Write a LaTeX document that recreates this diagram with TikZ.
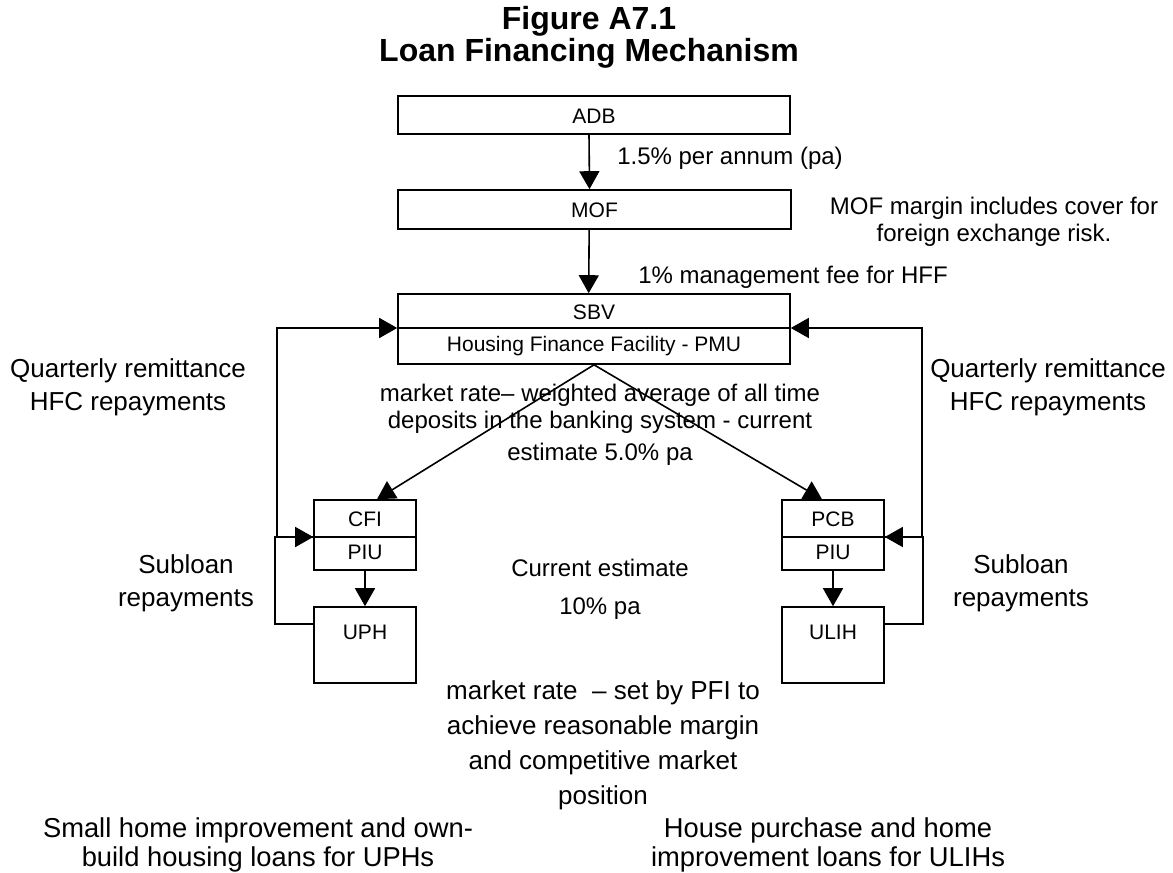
\documentclass[tikz,border=0pt]{standalone}
\usepackage{fontspec}
\setmainfont{Liberation Sans}
\usetikzlibrary{arrows.meta,calc}
\begin{document}
\begin{tikzpicture}[x=0.75pt,y=-0.75pt,
  box/.style={draw,line width=1.2pt,inner sep=0pt},
  boxtext/.style={inner sep=0pt,font=\fontsize{15.75}{18}\selectfont},
  conn/.style={line width=1.2pt},
  arr/.style={conn,-{Triangle[length=13.5pt,width=15pt]}},
  lbl/.style={font=\fontsize{18}{20.25}\selectfont,align=center,inner sep=0pt},
  biglbl/.style={font=\fontsize{19.5}{24.75}\selectfont,align=center,inner sep=0pt},
]
\useasboundingbox (0,0) rectangle (1173,873);

% helper rows
\coordinate (m328) at (0,328);
\coordinate (m537) at (0,537);
\coordinate (m624) at (0,624);

% title
\node[align=center,inner sep=0pt,font=\bfseries\fontsize{24}{24}\selectfont] (title) at (589,37) {Figure A7.1\\Loan Financing Mechanism};

% boxes
\node[box,minimum width=294pt,minimum height=28.5pt] (adb) at (594,115) {};
\node[boxtext] (adbt) at (594,116) {ADB};
\node[box,minimum width=294.75pt,minimum height=29.25pt] (mof) at (594.5,209.5) {};
\node[boxtext] (moft) at (594.5,210.5) {MOF};
\node[box,minimum width=294pt,minimum height=52.5pt] (sbv) at (594,329) {};
\node[boxtext] (sbvt) at (594,312) {SBV};
\node[boxtext] (hfft) at (594,346) {Housing Finance Facility - PMU};
\draw[conn] (sbv.west |- m328) -- (sbv.east |- m328);

\node[box,minimum width=76.5pt,minimum height=52.5pt] (cfi) at (365,535) {};
\node[boxtext] (cfit) at (365,519) {CFI};
\node[boxtext] (cfip) at (365,552) {PIU};
\draw[conn] (cfi.west |- m537) -- (cfi.east |- m537);

\node[box,minimum width=76.5pt,minimum height=52.5pt] (pcb) at (833,535) {};
\node[boxtext] (pcbt) at (833,519) {PCB};
\node[boxtext] (pcbp) at (833,552) {PIU};
\draw[conn] (pcb.west |- m537) -- (pcb.east |- m537);

\node[box,minimum width=76.5pt,minimum height=57pt] (uph) at (365,645) {};
\node[boxtext] (upht) at (365,632) {UPH};
\node[box,minimum width=76.5pt,minimum height=57pt] (ulih) at (833,645) {};
\node[boxtext] (uliht) at (833,632) {ULIH};

% connectors
\draw[arr] ([xshift=-3.75pt]adb.south) -- ([xshift=-3.75pt]mof.north);
\draw[arr] ([xshift=-4pt]mof.south) -- ([xshift=-4pt]sbv.north);
\draw[arr] (sbv.south) -- ([xshift=9pt]cfi.north);
\draw[arr] (sbv.south) -- ([xshift=-8.25pt]pcb.north);
\draw[arr] (cfi.south) -- (uph.north);
\draw[arr] (pcb.south) -- (ulih.north);

\draw[arr] (uph.west |- m624) -- ++(-38,0) |- (cfi.west |- m537);
\draw[arr] (cfi.west |- m537) -- ++(-36,0) |- (sbv.west |- m328);
\draw[arr] (ulih.east |- m624) -- ++(38,0) |- (pcb.east |- m537);
\draw[arr] (pcb.east |- m537) -- ++(37,0) |- (sbv.east |- m328);

% labels
\node[lbl,anchor=west] (rate1) at (617,158) {1.5\% per annum (pa)};
\node[lbl] (mofnote) at (994,222) {MOF margin includes cover for\\foreign exchange risk.};
\node[lbl,anchor=west] (fee) at (638,277) {1\% management fee for HFF};
\node[biglbl] (qleft) at (128,387) {Quarterly remittance\\HFC repayments};
\node[biglbl] (qright) at (1048,387) {Quarterly remittance\\HFC repayments};
\node[lbl] (mrate) at (600,425) {market rate-- weighted average of all time\\deposits in the banking system - current\\[3.75pt]estimate 5.0\% pa};
\node[biglbl] (subl) at (186,583) {Subloan\\repayments};
\node[biglbl] (subr) at (1021,583) {Subloan\\repayments};
\node[lbl,font=\fontsize{18}{28.5}\selectfont] (cur) at (600,589) {Current estimate\\10\% pa};
\node[biglbl,font=\fontsize{19.5}{26.25}\selectfont] (pfi) at (603,745) {market rate \ -- set by PFI to\\achieve reasonable margin\\and competitive market\\position};
\node[align=center,inner sep=0pt,font=\fontsize{20.5}{21.75}\selectfont] (botl) at (258,845) {Small home improvement and own-\\build housing loans for UPHs};
\node[align=center,inner sep=0pt,font=\fontsize{20.5}{21.75}\selectfont] (botr) at (828,845) {House purchase and home\\improvement loans for ULIHs};
\end{tikzpicture}
\end{document}
